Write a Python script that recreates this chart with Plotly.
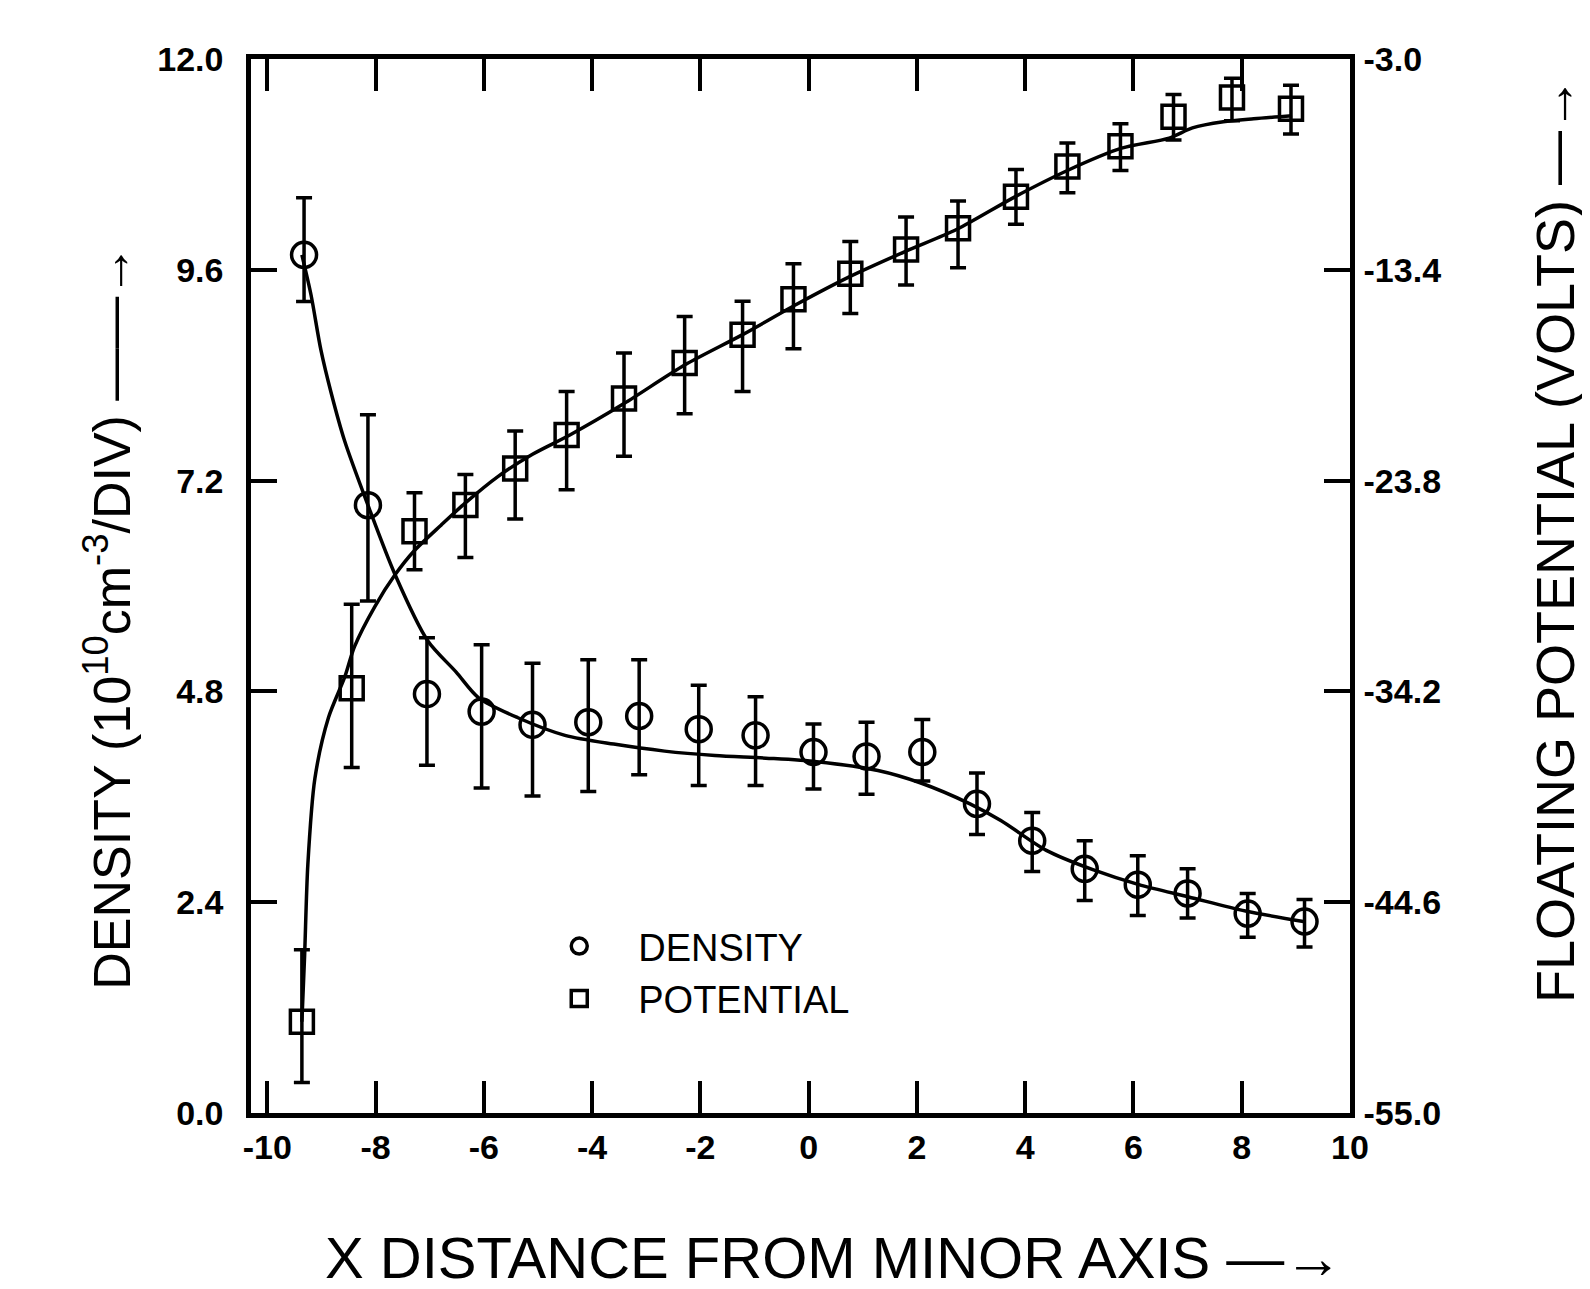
import plotly.graph_objects as go

# ---------------- data ----------------
# Density measurements (10^10 cm^-3 / DIV), with error-bar ends
dens_x = [-9.32, -8.14, -7.05, -6.04, -5.10, -4.07, -3.13, -2.03, -0.98, 0.09,
          1.07, 2.10, 3.11, 4.13, 5.10, 6.08, 7.00, 8.11, 9.16]
dens_y = [9.77, 6.92, 4.77, 4.57, 4.42, 4.45, 4.52, 4.37, 4.30, 4.11,
          4.06, 4.11, 3.52, 3.10, 2.78, 2.60, 2.50, 2.27, 2.18]
dens_hi = [10.42, 7.95, 5.41, 5.33, 5.12, 5.16, 5.16, 4.87, 4.74, 4.43,
           4.45, 4.48, 3.87, 3.42, 3.10, 2.93, 2.78, 2.50, 2.43]
dens_lo = [9.24, 5.83, 3.96, 3.70, 3.61, 3.66, 3.85, 3.73, 3.73, 3.69,
           3.63, 3.78, 3.17, 2.75, 2.42, 2.25, 2.22, 2.00, 1.89]

# Floating potential measurements (volts), with error-bar ends
pot_x = [-9.36, -8.44, -7.28, -6.34, -5.42, -4.47, -3.41, -2.29, -1.22, -0.28,
         0.77, 1.80, 2.76, 3.83, 4.78, 5.76, 6.74, 7.82, 8.91]
pot_y = [-50.5, -34.05, -26.3, -25.0, -23.2, -21.55, -19.75, -18.0, -16.6, -14.85,
         -13.6, -12.4, -11.35, -9.8, -8.3, -7.3, -5.85, -4.9, -5.45]
pot_hi = [-46.95, -29.9, -24.4, -23.5, -21.35, -19.4, -17.5, -15.7, -14.95, -13.1,
          -12.0, -10.8, -10.0, -8.45, -7.15, -6.2, -4.75, -3.95, -4.3]
pot_lo = [-53.5, -37.95, -28.2, -27.6, -25.7, -24.25, -22.6, -20.5, -19.4, -17.3,
          -15.55, -14.15, -13.3, -11.15, -9.6, -8.5, -7.0, -6.05, -6.7]

# Hand-drawn smooth curves
dens_fit_x = [-9.36, -9.19, -9.01, -8.82, -8.57, -8.14, -7.64, -7.04, -6.51, -6.10,
              -5.37, -4.50, -3.60, -2.66, -1.73, -0.79, 0.15, 1.28, 2.06, 2.98,
              3.55, 4.39, 5.25, 6.10, 7.02, 8.07, 9.14]
dens_fit_y = [9.77, 9.31, 8.69, 8.20, 7.65, 6.92, 6.13, 5.38, 5.02, 4.73,
              4.50, 4.30, 4.20, 4.12, 4.07, 4.04, 4.00, 3.90, 3.76, 3.52,
              3.33, 2.99, 2.77, 2.60, 2.46, 2.30, 2.18]

pot_fit_x = [-9.36, -9.31, -9.25, -9.12, -8.87, -8.57, -8.39, -8.01, -7.64, -7.28,
             -6.79, -6.34, -5.74, -5.10, -4.41, -3.41, -2.29, -1.22, -0.22, 0.75,
             1.78, 2.74, 3.81, 4.78, 5.78, 6.66, 7.09, 7.66, 8.22, 8.93]
pot_fit_y = [-50.5, -47.25, -42.75, -38.5, -35.5, -33.5, -32.0, -30.0, -28.45, -27.25,
             -26.0, -24.9, -23.6, -22.5, -21.55, -20.0, -18.1, -16.6, -15.1, -13.75,
             -12.5, -11.4, -9.8, -8.5, -7.4, -6.9, -6.4, -6.1, -5.95, -5.8]

# Axis ticks
x_ticks = [-10, -8, -6, -4, -2, 0, 2, 4, 6, 8, 10]
dens_ticks = [0.0, 2.4, 4.8, 7.2, 9.6, 12.0]
pot_ticks = [-55.0, -44.6, -34.2, -23.8, -13.4, -3.0]

# ---------------- figure ----------------
FONT = "Liberation Sans"
BLACK = "#000000"

fig = go.Figure()

fig.add_trace(go.Scatter(
    x=dens_fit_x, y=dens_fit_y, mode="lines",
    line=dict(color=BLACK, width=3.5, shape="spline", smoothing=0.8),
    showlegend=False, hoverinfo="skip", yaxis="y"))

fig.add_trace(go.Scatter(
    x=pot_fit_x, y=pot_fit_y, mode="lines",
    line=dict(color=BLACK, width=3.5, shape="spline", smoothing=0.8),
    showlegend=False, hoverinfo="skip", yaxis="y2"))

fig.add_trace(go.Scatter(
    x=dens_x, y=dens_y, mode="markers", name="DENSITY",
    marker=dict(symbol="circle-open", size=25, color=BLACK, line=dict(width=3.5, color=BLACK)),
    error_y=dict(type="data", symmetric=False,
                 array=[h - v for h, v in zip(dens_hi, dens_y)],
                 arrayminus=[v - l for v, l in zip(dens_y, dens_lo)],
                 color=BLACK, thickness=3.5, width=8),
    yaxis="y"))

fig.add_trace(go.Scatter(
    x=pot_x, y=pot_y, mode="markers", name="POTENTIAL",
    marker=dict(symbol="square-open", size=23, color=BLACK, line=dict(width=3.5, color=BLACK)),
    error_y=dict(type="data", symmetric=False,
                 array=[h - v for h, v in zip(pot_hi, pot_y)],
                 arrayminus=[v - l for v, l in zip(pot_y, pot_lo)],
                 color=BLACK, thickness=3.5, width=8),
    yaxis="y2"))

tickfont = dict(family=FONT, size=34, color=BLACK, weight="bold")

fig.update_layout(
    width=1590, height=1289,
    margin=dict(l=243, r=248, t=51, b=184),
    paper_bgcolor="white", plot_bgcolor="white",
    font=dict(family=FONT, color=BLACK),
    xaxis=dict(
        range=[-10.3, 10.0], tickvals=x_ticks, ticktext=[str(t) for t in x_ticks],
        ticks="inside", ticklen=32, tickwidth=4, tickcolor=BLACK,
        showline=True, linewidth=4.5, linecolor=BLACK, mirror="ticks",
        showgrid=False, zeroline=False, tickfont=tickfont, ticklabelstandoff=0),
    yaxis=dict(
        range=[0, 12], tickvals=dens_ticks, ticktext=["%.1f" % t for t in dens_ticks],
        ticks="inside", ticklen=26, tickwidth=4, tickcolor=BLACK,
        showline=True, linewidth=4.5, linecolor=BLACK,
        showgrid=False, zeroline=False, tickfont=tickfont, ticklabelstandoff=16),
    yaxis2=dict(
        range=[-55, -3], tickvals=pot_ticks, ticktext=["%.1f" % t for t in pot_ticks],
        overlaying="y", side="right",
        ticks="inside", ticklen=26, tickwidth=4, tickcolor=BLACK,
        showline=True, linewidth=4.5, linecolor=BLACK,
        showgrid=False, zeroline=False, tickfont=tickfont, ticklabelstandoff=2),
    showlegend=True,
    legend=dict(x=0.245, y=0.188, xanchor="left", yanchor="top",
                bgcolor="rgba(0,0,0,0)", font=dict(family=FONT, size=38, color=BLACK),
                itemwidth=108, tracegroupgap=0),
    annotations=[
        dict(text="DENSITY (10<sup>10</sup>cm<sup>-3</sup>/DIV) ——→",
             xref="paper", yref="paper", x=-0.13, y=0.47, textangle=-90,
             showarrow=False, font=dict(family=FONT, size=52, color=BLACK),
             xanchor="center", yanchor="middle"),
        dict(text="FLOATING POTENTIAL (VOLTS) —→",
             xref="paper", yref="paper", x=1.186, y=0.544, textangle=-90,
             showarrow=False, font=dict(family=FONT, size=54, color=BLACK),
             xanchor="center", yanchor="middle"),
        dict(text="X DISTANCE FROM MINOR AXIS —→",
             xref="paper", yref="paper", x=0.53, y=-0.137,
             showarrow=False, font=dict(family=FONT, size=58, color=BLACK),
             xanchor="center", yanchor="middle"),
    ],
)

fig.write_html("out.html")
